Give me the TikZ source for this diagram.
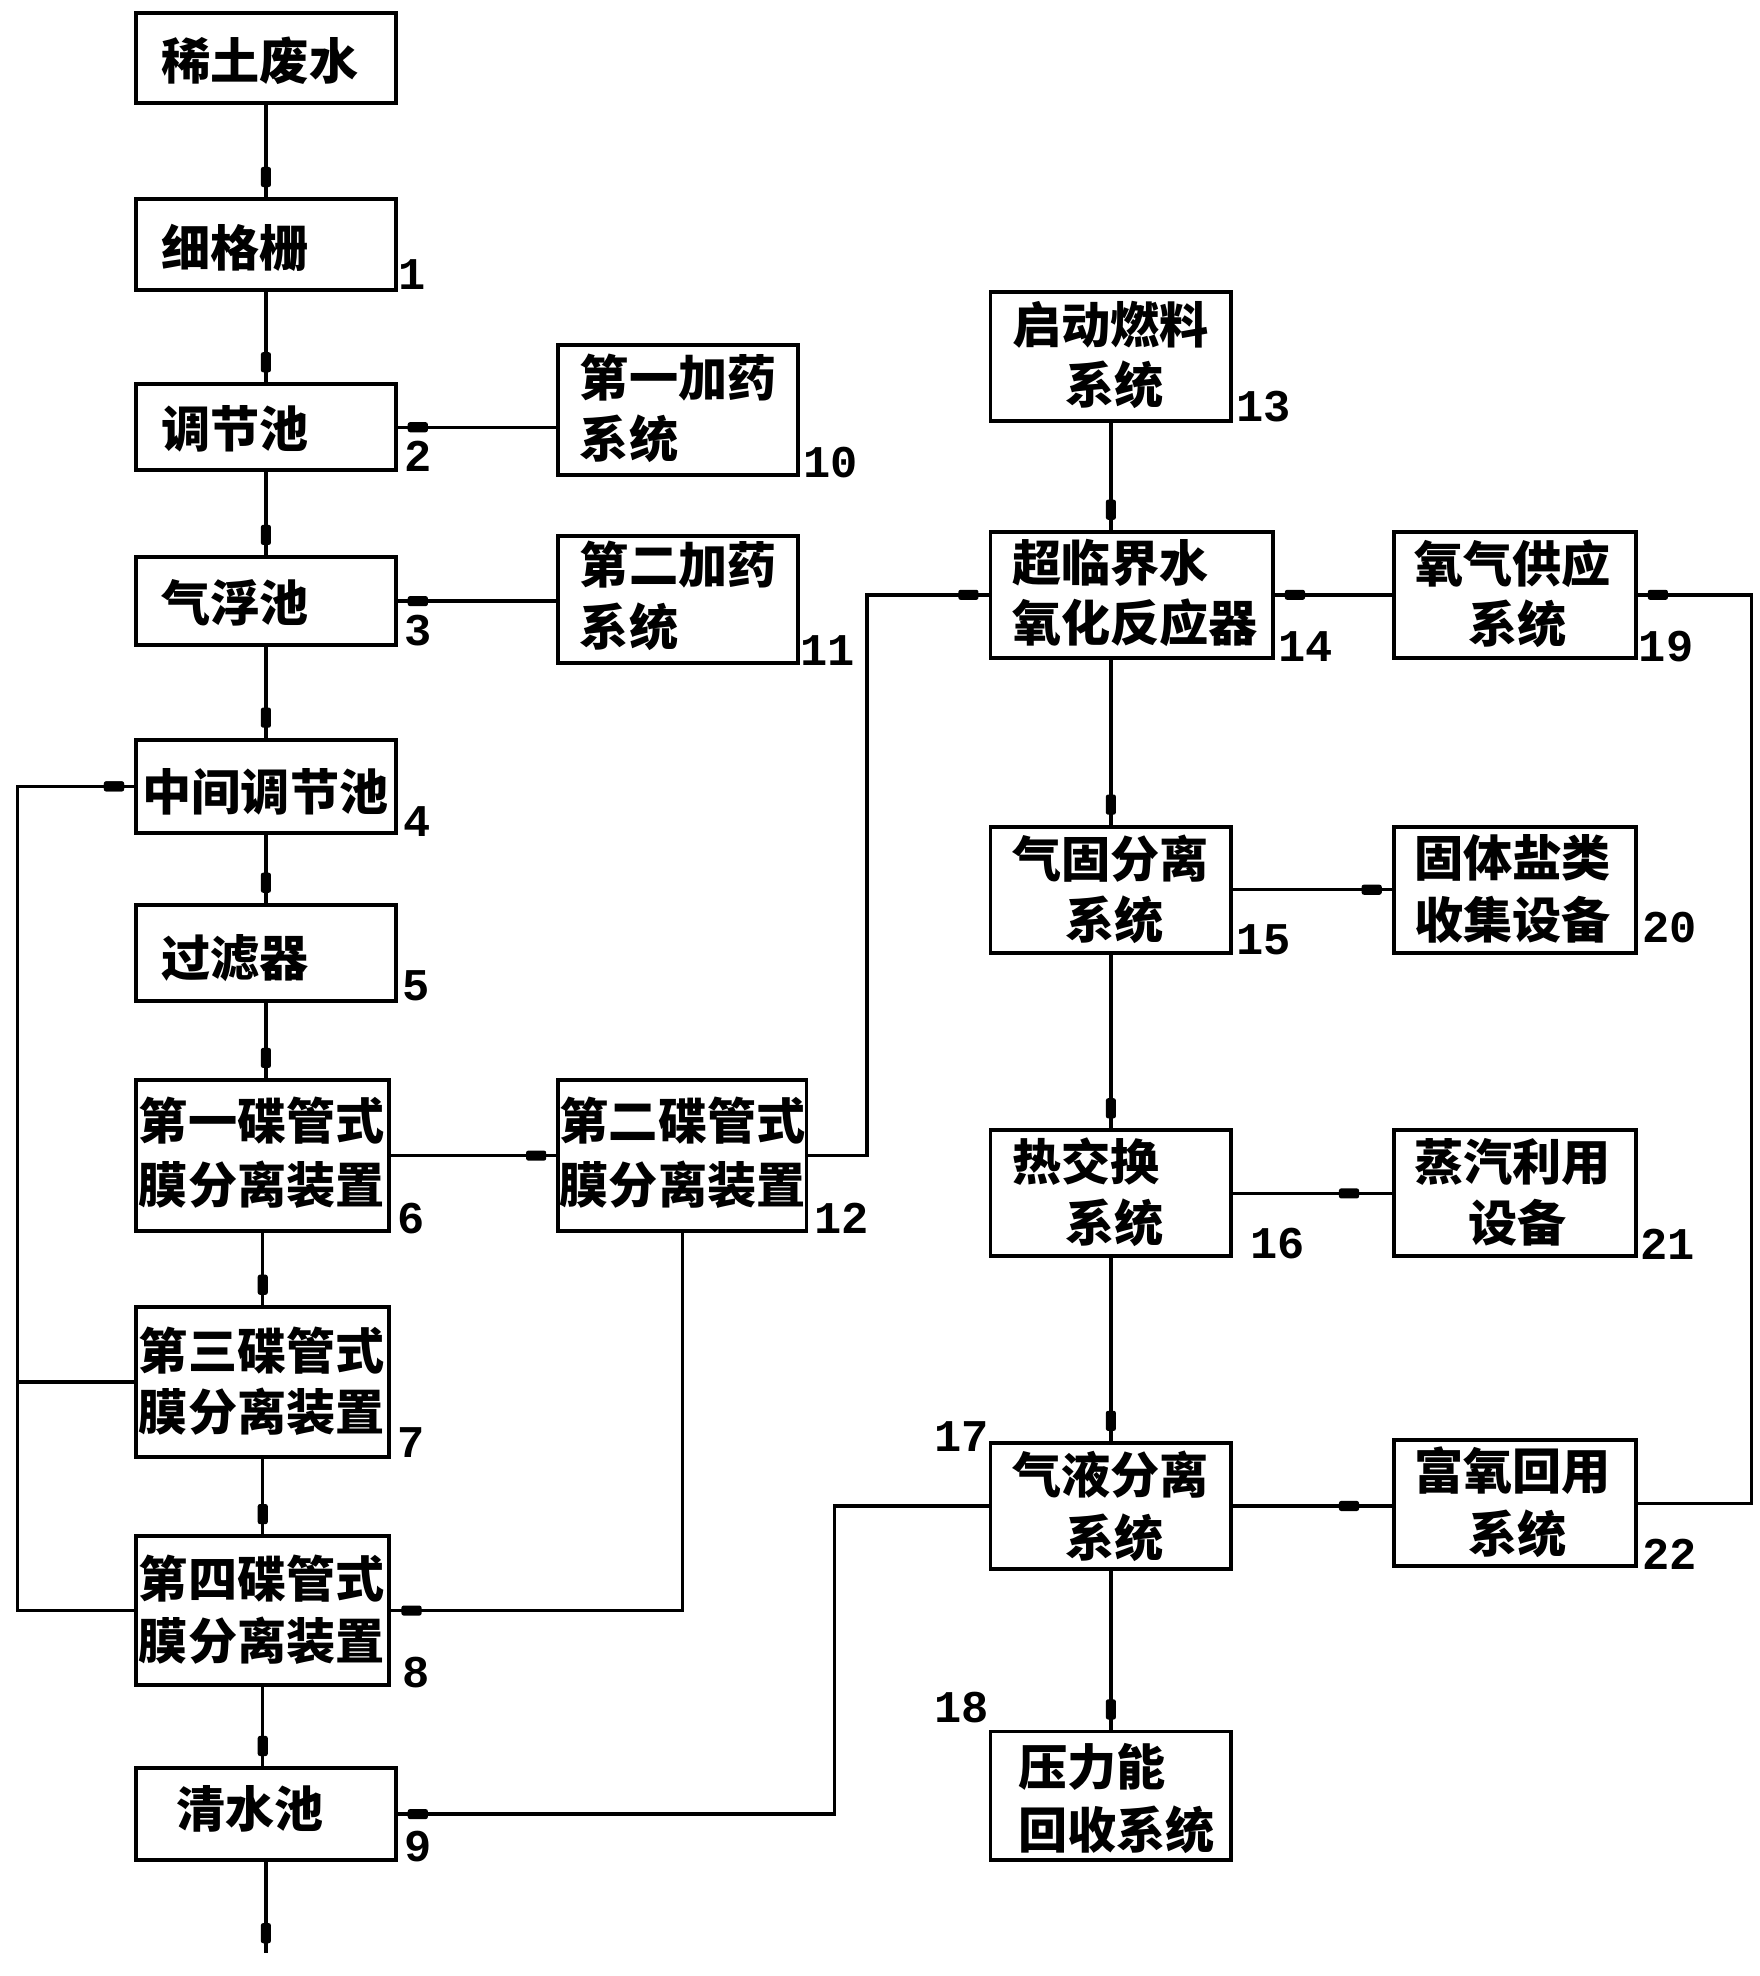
\documentclass[tikz,border=0pt]{standalone}
\usepackage{fontspec}
\setmainfont{Noto Sans CJK SC}
\newfontfamily\numfont{Liberation Mono}
\usetikzlibrary{decorations.markings,calc}
\tikzset{
  box/.style={draw, line width=3.1pt, rectangle, inner sep=0pt, minimum width=#1},
  box/.default=191pt,
  txt/.style={anchor=west, inner sep=0pt, font=\fontsize{39}{46}\selectfont\bfseries},
  num/.style={inner sep=0pt, font=\numfont\bfseries\fontsize{36}{40}\selectfont},
  flow/.style={line width=2.7pt, postaction={decorate},
    decoration={markings, mark=at position -#1 with {\fill[rounded corners=1.8pt] (-8pt,-4pt) rectangle (8pt,4pt);}}},
  flow/.default=16pt
}
\begin{document}
\begin{tikzpicture}[x=1pt,y=-1pt]
\useasboundingbox (0,0) rectangle (1396,1568);
% left column boxes
\node[box=206pt, minimum height=72pt] (b0) at (211,46) {};
\node[box=206pt, minimum height=72pt] (b1) at (211,194) {};
\node[box=206pt, minimum height=68pt] (b2) at (211,339) {};
\node[box=206pt, minimum height=70pt] (b3) at (211,477) {};
\node[box=206pt, minimum height=74pt] (b4) at (211,624) {};
\node[box=206pt, minimum height=76pt] (b5) at (211,756) {};
\node[box=201pt, minimum height=120pt] (b6) at (208.5,917) {};
\node[box=201pt, minimum height=119pt] (b7) at (208.5,1096.5) {};
\node[box=201pt, minimum height=118pt] (b8) at (208.5,1278) {};
\node[box=206pt, minimum height=73pt] (b9) at (211,1439.5) {};
% middle column
\node[box=190pt, minimum height=103pt] (b10) at (538,325.5) {};
\node[box=190pt, minimum height=101pt] (b11) at (538,475.5) {};
\node[box=197pt, minimum height=120pt] (b12) at (541.5,917) {};
% right columns
\node[box=191pt, minimum height=102pt] (b13) at (881.5,283) {};
\node[box=224pt, minimum height=100pt] (b14) at (898,472) {};
\node[box=192pt, minimum height=100pt] (b19) at (1202,472) {};
\node[box=191pt, minimum height=100pt] (b15) at (881.5,706) {};
\node[box=192pt, minimum height=100pt] (b20) at (1202,706) {};
\node[box=191pt, minimum height=100pt] (b16) at (881.5,947) {};
\node[box=192pt, minimum height=100pt] (b21) at (1202,947) {};
\node[box=191pt, minimum height=100pt] (b17) at (881.5,1195) {};
\node[box=192pt, minimum height=100pt] (b22) at (1202,1193) {};
\node[box=191pt, minimum height=102pt] (b18) at (881.5,1425) {};
% texts
\node[txt] (t0) at (128,48) {稀土废水};
\node[txt] (t1) at (128,197) {细格栅};
\node[txt] (t2) at (128,340) {调节池};
\node[txt] (t3) at (128,478) {气浮池};
\node[txt] (t4) at (113,628) {中间调节池};
\node[txt] (t5) at (128,760) {过滤器};
\node[txt] (t6a) at (110,889) {第一碟管式};
\node[txt] (t6b) at (110,940) {膜分离装置};
\node[txt] (t7a) at (110,1072) {第三碟管式};
\node[txt] (t7b) at (110,1120) {膜分离装置};
\node[txt] (t8a) at (110,1253) {第四碟管式};
\node[txt] (t8b) at (110,1302) {膜分离装置};
\node[txt] (t9) at (140,1435) {清水池};
\node[txt] (t10a) at (460,300) {第一加药};
\node[txt] (t10b) at (460,348) {系统};
\node[txt] (t11a) at (460,448) {第二加药};
\node[txt] (t11b) at (460,497) {系统};
\node[txt] (t12a) at (444,889) {第二碟管式};
\node[txt] (t12b) at (444,940) {膜分离装置};
\node[txt] (t13a) at (803,258) {启动燃料};
\node[txt] (t13b) at (845,305) {系统};
\node[txt] (t14a) at (803,447) {超临界水};
\node[txt] (t14b) at (803,494) {氧化反应器};
\node[txt] (t19a) at (1122,447) {氧气供应};
\node[txt] (t19b) at (1165,495) {系统};
\node[txt] (t15a) at (803,681) {气固分离};
\node[txt] (t15b) at (845,730) {系统};
\node[txt] (t20a) at (1122,681) {固体盐类};
\node[txt] (t20b) at (1122,730) {收集设备};
\node[txt] (t16a) at (803,922) {热交换};
\node[txt] (t16b) at (845,970) {系统};
\node[txt] (t21a) at (1122,922) {蒸汽利用};
\node[txt] (t21b) at (1165,970) {设备};
\node[txt] (t17a) at (803,1170) {气液分离};
\node[txt] (t17b) at (845,1220) {系统};
\node[txt] (t22a) at (1122,1167) {富氧回用};
\node[txt] (t22b) at (1165,1217) {系统};
\node[txt] (t18a) at (808,1402) {压力能};
\node[txt] (t18b) at (808,1452) {回收系统};
% numbers
\node[num] (n1) at (327,218) {1};
\node[num] (n2) at (332,362) {2};
\node[num] (n3) at (332,500) {3};
\node[num] (n4) at (331,652) {4};
\node[num] (n5) at (330,782) {5};
\node[num] (n6) at (326,967) {6};
\node[num] (n7) at (326,1145) {7};
\node[num] (n8) at (330,1327) {8};
\node[num] (n9) at (332,1465) {9};
\node[num] (n10) at (659,367) {10};
\node[num] (n11) at (657,516) {11};
\node[num] (n12) at (668,967) {12};
\node[num] (n13) at (1003,323) {13};
\node[num] (n14) at (1036,513) {14};
\node[num] (n15) at (1003,746) {15};
\node[num] (n16) at (1014,987) {16};
\node[num] (n17) at (763,1140) {17};
\node[num] (n18) at (763,1355) {18};
\node[num] (n19) at (1322,513) {19};
\node[num] (n20) at (1325,736) {20};
\node[num] (n21) at (1323,987) {21};
\node[num] (n22) at (1325,1233) {22};
% helper coordinates
\coordinate (out) at (211,1550);
\coordinate (xl) at (14,0);
\coordinate (xm) at (688,0);
\coordinate (xc) at (662,0);
\coordinate (xr) at (1390,0);
% connectors left column
\draw[flow] (b0.south) -- (b1.north);
\draw[flow] (b1.south) -- (b2.north);
\draw[flow] (b2.south) -- (b3.north);
\draw[flow] (b3.south) -- (b4.north);
\draw[flow] (b4.south) -- (b5.north);
\draw[flow] (b5.south) -- (b5.south |- b6.north);
\draw[flow] (b6.south) -- (b7.north);
\draw[flow] (b7.south) -- (b8.north);
\draw[flow] (b8.south) -- (b8.south |- b9.north);
\draw[flow] (b9.south) -- (out);
\draw[flow] (b10.west |- b2.east) -- (b2.east);
\draw[flow] (b11.west |- b3.east) -- (b3.east);
\draw[flow] (b6.east) -- (b6.east -| b12.west);
\draw[flow] (b12.east) -- (b12.east -| xm) |- (b14.west);
\draw[flow] (b12.south) |- (b8.east);
\draw[flow] (b7.west) -- (b7.west -| xl) |- (b4.west);
\draw[flow] (b8.west) -- (b8.west -| xl) |- (b4.west);
\draw[flow] (b17.west) -- (b17.west -| xc) |- (b9.east);
% right part
\draw[flow] (b13.south) -- (b13.south |- b14.north);
\draw[flow] (b19.west) -- (b14.east);
\draw[flow] (b15.north |- b14.south) -- (b15.north);
\draw[flow] (b15.east) -- (b20.west);
\draw[flow] (b15.south) -- (b16.north);
\draw[flow=34pt] (b16.east) -- (b21.west);
\draw[flow] (b16.south) -- (b17.north);
\draw[flow=34pt] (b17.east) -- (b17.east -| b22.west);
\draw[flow] (b22.east) -- (b22.east -| xr) |- (b19.east);
\draw[flow] (b17.south) -- (b18.north);
\end{tikzpicture}
\end{document}
